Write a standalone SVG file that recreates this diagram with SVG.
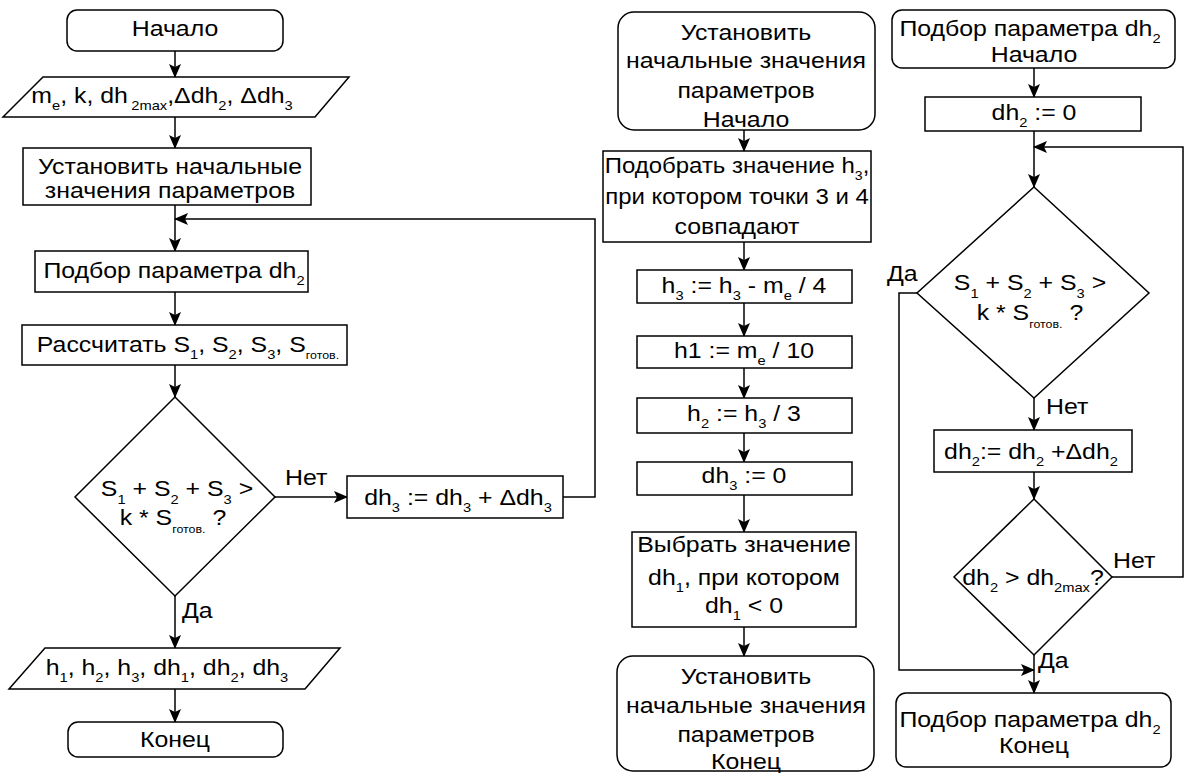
<svg xmlns="http://www.w3.org/2000/svg" width="1189" height="773" viewBox="0 0 1189 773">
  <style>
    .shape { fill: #ffffff; stroke: #000000; stroke-width: 1.5; }
    .edge { fill: none; stroke: #000000; stroke-width: 1.5; }
    .t { font-family: "Liberation Sans", Arial, sans-serif; font-size: 22px; fill: #000000; text-anchor: middle; }
    .ts { font-family: "Liberation Sans", Arial, sans-serif; font-size: 22px; fill: #000000; text-anchor: start; }
    .s { font-size: 13px; }
    .xs { font-size: 11px; }
  </style>
  <defs>
    <marker id="arrow" markerUnits="userSpaceOnUse" markerWidth="14" markerHeight="14" viewBox="0 0 14 14" refX="13" refY="7" orient="auto">
      <path d="M0,1 L14,7 L0,13 L3,7 z" fill="#000000"/>
    </marker>
  </defs>

  <!-- connectors -->
  <g id="connectors">
    <!-- main algorithm -->
    <path class="edge" d="M175,51 V77" marker-end="url(#arrow)"/>
    <path class="edge" d="M175,117 V148" marker-end="url(#arrow)"/>
    <path class="edge" d="M175,205 V251" marker-end="url(#arrow)"/>
    <path class="edge" d="M175,292 V325" marker-end="url(#arrow)"/>
    <path class="edge" d="M175,365 V397" marker-end="url(#arrow)"/>
    <path class="edge" d="M275,497 H347" marker-end="url(#arrow)"/>
    <path class="edge" d="M563,497 H595 V219 H175" marker-end="url(#arrow)"/>
    <path class="edge" d="M175,596 V648" marker-end="url(#arrow)"/>
    <path class="edge" d="M175,689 V722" marker-end="url(#arrow)"/>
    <!-- initial values subroutine -->
    <path class="edge" d="M744,130 V151" marker-end="url(#arrow)"/>
    <path class="edge" d="M744,242 V270" marker-end="url(#arrow)"/>
    <path class="edge" d="M744,303 V336" marker-end="url(#arrow)"/>
    <path class="edge" d="M744,368 V398" marker-end="url(#arrow)"/>
    <path class="edge" d="M744,433 V462" marker-end="url(#arrow)"/>
    <path class="edge" d="M744,495 V532" marker-end="url(#arrow)"/>
    <path class="edge" d="M744,627 V656" marker-end="url(#arrow)"/>
    <!-- dh2 selection subroutine -->
    <path class="edge" d="M1034,68 V97" marker-end="url(#arrow)"/>
    <path class="edge" d="M1034,131 V187" marker-end="url(#arrow)"/>
    <path class="edge" d="M1112,577 H1183 V147 H1034" marker-end="url(#arrow)"/>
    <path class="edge" d="M917,293 H899 V670 H1034" marker-end="url(#arrow)"/>
    <path class="edge" d="M1034,398 V430" marker-end="url(#arrow)"/>
    <path class="edge" d="M1034,472 V499" marker-end="url(#arrow)"/>
    <path class="edge" d="M1034,655 V693" marker-end="url(#arrow)"/>
  </g>

  <!-- edge labels -->
  <g id="edge-labels">
    <text class="ts" transform="translate(285 485) scale(1.13 1)">Нет</text>
    <text class="ts" transform="translate(182 618) scale(1.13 1)">Да</text>
    <text class="ts" transform="translate(887 281) scale(1.13 1)">Да</text>
    <text class="ts" transform="translate(1046 414) scale(1.13 1)">Нет</text>
    <text class="ts" transform="translate(1113 568) scale(1.13 1)">Нет</text>
    <text class="ts" transform="translate(1038 668) scale(1.13 1)">Да</text>
  </g>

  <!-- main algorithm -->
  <g id="start">
    <rect class="shape" x="67" y="10" width="216" height="41" rx="10"/>
    <text class="t" transform="translate(175 36) scale(1.13 1)">Начало</text>
  </g>
  <g id="input">
    <polygon class="shape" points="43,77 349,77 315,117 3,117"/>
    <text class="t" transform="translate(162 103) scale(1.13 1)">m<tspan class="s" dy="7">e</tspan><tspan dy="-7">, k, dh</tspan><tspan class="s" dx="3" dy="7">2max</tspan><tspan dy="-7">,Δdh</tspan><tspan class="s" dy="7">2</tspan><tspan dy="-7">, Δdh</tspan><tspan class="s" dy="7">3</tspan></text>
  </g>
  <g id="init-params">
    <rect class="shape" x="23" y="148" width="288" height="57"/>
    <text class="t" transform="translate(170 174) scale(1.13 1)">Установить начальные</text>
    <text class="t" transform="translate(170 198) scale(1.13 1)">значения параметров</text>
  </g>
  <g id="select-dh2">
    <rect class="shape" x="35" y="251" width="273" height="41"/>
    <text class="t" transform="translate(174 278) scale(1.13 1)">Подбор параметра dh<tspan class="s" dy="7">2</tspan></text>
  </g>
  <g id="compute-s">
    <rect class="shape" x="22" y="325" width="325" height="40"/>
    <text class="t" transform="translate(188 352) scale(1.13 1)">Рассчитать S<tspan class="s" dy="7">1</tspan><tspan dy="-7">, S</tspan><tspan class="s" dy="7">2</tspan><tspan dy="-7">, S</tspan><tspan class="s" dy="7">3</tspan><tspan dy="-7">, S</tspan><tspan class="xs" dy="7">готов.</tspan></text>
  </g>
  <g id="check-area">
    <polygon class="shape" points="175,397 275,497 175,596 75,497"/>
    <text class="t" transform="translate(177 496) scale(1.13 1)">S<tspan class="s" dy="8">1</tspan><tspan dy="-8"> + S</tspan><tspan class="s" dy="8">2</tspan><tspan dy="-8"> + S</tspan><tspan class="s" dy="8">3</tspan><tspan dy="-8"> &gt;</tspan></text>
    <text class="t" transform="translate(173 525) scale(1.13 1)">k * S<tspan class="xs" dy="8">готов.</tspan><tspan dy="-8">   ?</tspan></text>
  </g>
  <g id="step-dh3">
    <rect class="shape" x="347" y="476" width="216" height="42"/>
    <text class="t" transform="translate(458 505) scale(1.13 1)">dh<tspan class="s" dy="7">3</tspan><tspan dy="-7"> := dh</tspan><tspan class="s" dy="7">3</tspan><tspan dy="-7"> + Δdh</tspan><tspan class="s" dy="7">3</tspan></text>
  </g>
  <g id="output">
    <polygon class="shape" points="45,648 340,648 305,689 9,689"/>
    <text class="t" transform="translate(167 675) scale(1.13 1)">h<tspan class="s" dy="7">1</tspan><tspan dy="-7">, h</tspan><tspan class="s" dy="7">2</tspan><tspan dy="-7">, h</tspan><tspan class="s" dy="7">3</tspan><tspan dy="-7">, dh</tspan><tspan class="s" dy="7">1</tspan><tspan dy="-7">, dh</tspan><tspan class="s" dy="7">2</tspan><tspan dy="-7">, dh</tspan><tspan class="s" dy="7">3</tspan></text>
  </g>
  <g id="end">
    <rect class="shape" x="68" y="722" width="215" height="35" rx="10"/>
    <text class="t" transform="translate(175 747) scale(1.13 1)">Конец</text>
  </g>

  <!-- initial values subroutine -->
  <g id="init-start">
    <rect class="shape" x="618" y="12" width="257" height="118" rx="16"/>
    <text class="t" transform="translate(746 40) scale(1.13 1)">Установить</text>
    <text class="t" transform="translate(746 68) scale(1.13 1)">начальные значения</text>
    <text class="t" transform="translate(746 98) scale(1.13 1)">параметров</text>
    <text class="t" transform="translate(746 127) scale(1.13 1)">Начало</text>
  </g>
  <g id="fit-h3">
    <rect class="shape" x="603" y="151" width="268" height="91"/>
    <text class="t" transform="translate(737 173) scale(1.09 1)">Подобрать значение h<tspan class="s" dy="7">3</tspan><tspan dy="-7">,</tspan></text>
    <text class="t" transform="translate(737 204) scale(1.09 1)">при котором точки 3 и 4</text>
    <text class="t" transform="translate(737 234) scale(1.13 1)">совпадают</text>
  </g>
  <g id="set-h3">
    <rect class="shape" x="637" y="270" width="215" height="33"/>
    <text class="t" transform="translate(744 293) scale(1.13 1)">h<tspan class="s" dy="7">3</tspan><tspan dy="-7"> := h</tspan><tspan class="s" dy="7">3</tspan><tspan dy="-7"> - m</tspan><tspan class="s" dy="7">e</tspan><tspan dy="-7"> / 4</tspan></text>
  </g>
  <g id="set-h1">
    <rect class="shape" x="637" y="336" width="215" height="32"/>
    <text class="t" transform="translate(744 358) scale(1.13 1)">h1 := m<tspan class="s" dy="7">e</tspan><tspan dy="-7">  / 10</tspan></text>
  </g>
  <g id="set-h2">
    <rect class="shape" x="637" y="398" width="215" height="35"/>
    <text class="t" transform="translate(744 421) scale(1.13 1)">h<tspan class="s" dy="7">2</tspan><tspan dy="-7"> := h</tspan><tspan class="s" dy="7">3</tspan><tspan dy="-7"> / 3</tspan></text>
  </g>
  <g id="reset-dh3">
    <rect class="shape" x="637" y="462" width="215" height="33"/>
    <text class="t" transform="translate(744 483) scale(1.13 1)">dh<tspan class="s" dy="7">3</tspan><tspan dy="-7"> := 0</tspan></text>
  </g>
  <g id="pick-dh1">
    <rect class="shape" x="632" y="532" width="224" height="95"/>
    <text class="t" transform="translate(744 552) scale(1.13 1)">Выбрать значение</text>
    <text class="t" transform="translate(744 585) scale(1.13 1)">dh<tspan class="s" dy="7">1</tspan><tspan dy="-7">, при котором</tspan></text>
    <text class="t" transform="translate(744 613) scale(1.13 1)">dh<tspan class="s" dy="7">1</tspan><tspan dy="-7"> &lt; 0</tspan></text>
  </g>
  <g id="init-end">
    <rect class="shape" x="617" y="656" width="257" height="115" rx="16"/>
    <text class="t" transform="translate(746 684) scale(1.13 1)">Установить</text>
    <text class="t" transform="translate(746 713) scale(1.13 1)">начальные значения</text>
    <text class="t" transform="translate(746 742) scale(1.13 1)">параметров</text>
    <text class="t" transform="translate(746 769) scale(1.13 1)">Конец</text>
  </g>

  <!-- dh2 selection subroutine -->
  <g id="dh2-start">
    <rect class="shape" x="892" y="10" width="283" height="58" rx="10"/>
    <text class="t" transform="translate(1030 36) scale(1.13 1)">Подбор параметра dh<tspan class="s" dy="7">2</tspan></text>
    <text class="t" transform="translate(1034 62) scale(1.13 1)">Начало</text>
  </g>
  <g id="dh2-zero">
    <rect class="shape" x="925" y="97" width="216" height="34"/>
    <text class="t" transform="translate(1034 120) scale(1.13 1)">dh<tspan class="s" dy="7">2</tspan><tspan dy="-7"> := 0</tspan></text>
  </g>
  <g id="dh2-check-area">
    <polygon class="shape" points="1034,187 1149,293 1034,398 917,293"/>
    <text class="t" transform="translate(1030 290) scale(1.13 1)">S<tspan class="s" dy="8">1</tspan><tspan dy="-8"> + S</tspan><tspan class="s" dy="8">2</tspan><tspan dy="-8"> + S</tspan><tspan class="s" dy="8">3</tspan><tspan dy="-8"> &gt;</tspan></text>
    <text class="t" transform="translate(1030 320) scale(1.13 1)">k * S<tspan class="xs" dy="8">готов.</tspan><tspan dy="-8">  ?</tspan></text>
  </g>
  <g id="dh2-step">
    <rect class="shape" x="934" y="430" width="198" height="42"/>
    <text class="t" transform="translate(1031 459) scale(1.13 1)">dh<tspan class="s" dy="7">2</tspan><tspan dy="-7">:= dh</tspan><tspan class="s" dy="7">2</tspan><tspan dy="-7"> +Δdh</tspan><tspan class="s" dy="7">2</tspan></text>
  </g>
  <g id="dh2-limit">
    <polygon class="shape" points="1034,499 1112,577 1034,655 954,577"/>
    <text class="t" transform="translate(1033 585) scale(1.13 1)">dh<tspan class="s" dy="7">2</tspan><tspan dy="-7"> &gt; dh</tspan><tspan class="s" dy="7">2max</tspan><tspan dy="-7">?</tspan></text>
  </g>
  <g id="dh2-end">
    <rect class="shape" x="896" y="693" width="275" height="74" rx="10"/>
    <text class="t" transform="translate(1030 727) scale(1.13 1)">Подбор параметра dh<tspan class="s" dy="7">2</tspan></text>
    <text class="t" transform="translate(1034 753) scale(1.13 1)">Конец</text>
  </g>
</svg>
